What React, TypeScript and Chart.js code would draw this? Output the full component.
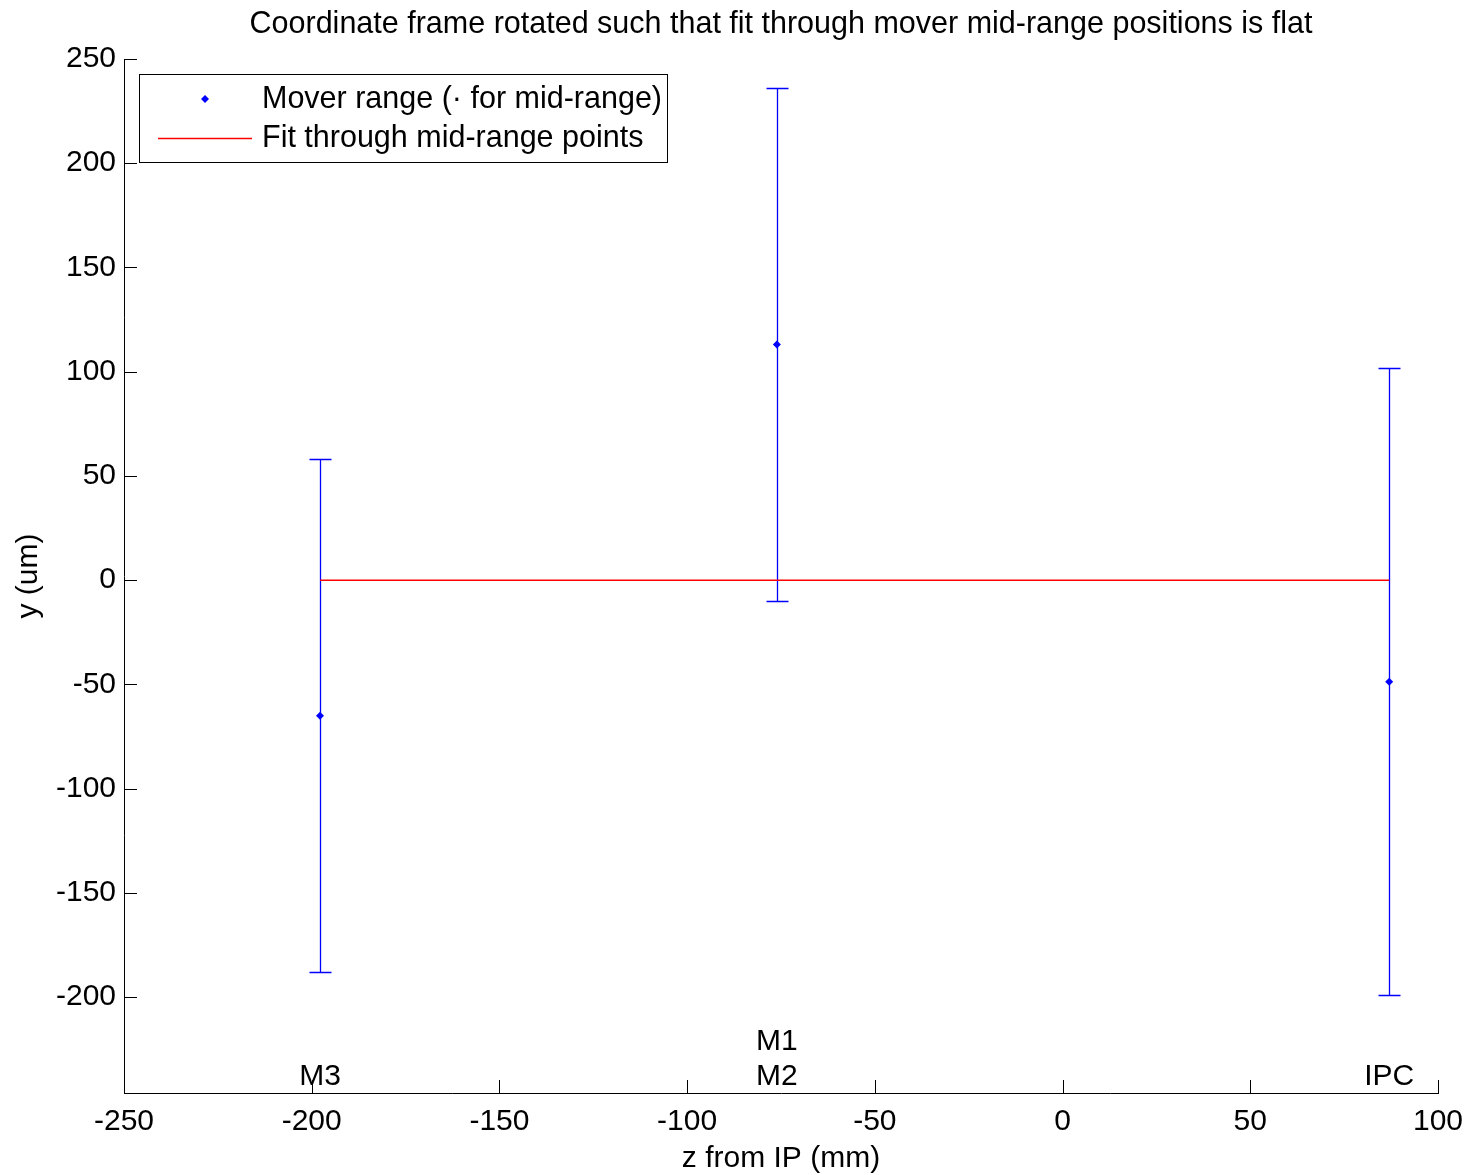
import React, { useEffect, useRef } from 'react';
import { Chart, registerables } from 'chart.js';

Chart.register(...registerables);

const chartTitle = 'Coordinate frame rotated such that fit through mover mid-range positions is flat';
const xAxisTitle = 'z from IP (mm)';
const yAxisTitle = 'y (um)';
const legendLabels = ['Mover range (\u00b7 for mid-range)', 'Fit through mid-range points'];

const moverLabels = [['M3'], ['M1', 'M2'], ['IPC']];
const moverZ = [-197.8, -76.1, 87.0];
const rangeLow = [-188.1, -10.1, -199.1];
const rangeHigh = [58.1, 236.1, 101.7];
const midRange = [-65.0, 113.0, -48.7];

const fitZ = [-197.8, 87.0];
const fitY = [0, 0];

const xTicks = [-250, -200, -150, -100, -50, 0, 50, 100];
const yTicks = [-200, -150, -100, -50, 0, 50, 100, 150, 200, 250];
const xMin = -250;
const xMax = 100;
const yMin = -246;
const yMax = 250;

const FONT = '"Liberation Sans", Arial, Helvetica, sans-serif';
const BLUE = '#0000ff';
const RED = '#ff0000';

const matlabPlugin = {
  id: 'matlabDecor',
  beforeDatasetsDraw(chart: any) {
    const { ctx, scales } = chart;
    const x = scales.x;
    const y = scales.y;
    ctx.save();
    ctx.strokeStyle = BLUE;
    ctx.lineWidth = 1.3;
    for (let i = 0; i < moverZ.length; i++) {
      const px = Math.round(x.getPixelForValue(moverZ[i])) + 0.5;
      const top = Math.round(y.getPixelForValue(rangeHigh[i])) + 0.5;
      const bot = Math.round(y.getPixelForValue(rangeLow[i])) + 0.5;
      ctx.beginPath();
      ctx.moveTo(px, top);
      ctx.lineTo(px, bot);
      ctx.moveTo(px - 11, top);
      ctx.lineTo(px + 11, top);
      ctx.moveTo(px - 11, bot);
      ctx.lineTo(px + 11, bot);
      ctx.stroke();
    }
    ctx.restore();
  },
  afterDraw(chart: any) {
    const { ctx, scales, chartArea } = chart;
    const x = scales.x;
    const y = scales.y;
    ctx.save();
    // inward ticks
    ctx.strokeStyle = '#000';
    ctx.lineWidth = 1;
    ctx.beginPath();
    const tl = 13;
    for (const v of xTicks) {
      const px = Math.round(x.getPixelForValue(v)) + 0.5;
      ctx.moveTo(px, chartArea.bottom);
      ctx.lineTo(px, chartArea.bottom - tl);
    }
    for (const v of yTicks) {
      const py = Math.round(y.getPixelForValue(v)) + 0.5;
      ctx.moveTo(chartArea.left, py);
      ctx.lineTo(chartArea.left + tl, py);
    }
    ctx.stroke();

    // title
    ctx.fillStyle = '#000';
    ctx.font = `30.5px ${FONT}`;
    ctx.textAlign = 'center';
    ctx.textBaseline = 'middle';
    ctx.fillText(chartTitle, (chartArea.left + chartArea.right) / 2, 25);

    // mover labels
    ctx.font = `30px ${FONT}`;
    ctx.textAlign = 'center';
    ctx.textBaseline = 'alphabetic';
    for (let i = 0; i < moverZ.length; i++) {
      const px = x.getPixelForValue(moverZ[i]);
      const lines = moverLabels[i];
      for (let j = 0; j < lines.length; j++) {
        const base = y.getPixelForValue(yMin) - 8 - (lines.length - 1 - j) * 35;
        ctx.fillText(lines[j], px, base);
      }
    }

    // legend
    const lx = 139.5, ly = 74.5, lw = 528, lh = 88;
    ctx.fillStyle = '#fff';
    ctx.fillRect(lx, ly, lw, lh);
    ctx.strokeStyle = '#000';
    ctx.lineWidth = 1;
    ctx.strokeRect(lx, ly, lw, lh);
    // entry 1 marker
    ctx.fillStyle = BLUE;
    ctx.beginPath();
    ctx.moveTo(205, 95);
    ctx.lineTo(209, 99);
    ctx.lineTo(205, 103);
    ctx.lineTo(201, 99);
    ctx.closePath();
    ctx.fill();
    // entry 2 line
    ctx.strokeStyle = RED;
    ctx.lineWidth = 1.5;
    ctx.beginPath();
    ctx.moveTo(158, 138.5);
    ctx.lineTo(252, 138.5);
    ctx.stroke();
    ctx.fillStyle = '#000';
    ctx.font = `30.5px ${FONT}`;
    ctx.textAlign = 'left';
    ctx.textBaseline = 'middle';
    ctx.fillText(legendLabels[0], 262, 100);
    ctx.fillText(legendLabels[1], 262, 139);
    ctx.restore();
  },
};

export default function App() {
  const canvasRef = useRef<HTMLCanvasElement | null>(null);

  useEffect(() => {
    document.body.style.margin = '0';
    const canvas = canvasRef.current;
    if (!canvas) return;
    const chart = new Chart(canvas, {
      type: 'scatter',
      data: {
        datasets: [
          {
            label: legendLabels[0],
            data: moverZ.map((z, i) => ({ x: z, y: midRange[i] })),
            pointStyle: 'rectRot',
            pointRadius: 4,
            pointBackgroundColor: BLUE,
            pointBorderColor: BLUE,
            pointBorderWidth: 0,
            showLine: false,
          },
          {
            label: legendLabels[1],
            data: fitZ.map((z, i) => ({ x: z, y: fitY[i] })),
            showLine: true,
            borderColor: RED,
            borderWidth: 1.5,
            pointRadius: 0,
            fill: false,
          },
        ],
      },
      options: {
        animation: false,
        responsive: true,
        maintainAspectRatio: false,
        layout: { padding: { top: 59, right: 34, left: 0, bottom: 0 } },
        plugins: {
          legend: { display: false },
          title: { display: false },
          tooltip: { enabled: false },
        },
        scales: {
          x: {
            type: 'linear',
            position: 'bottom',
            min: xMin,
            max: xMax,
            afterBuildTicks: (s: any) => {
              s.ticks = xTicks.map((v) => ({ value: v }));
            },
            afterFit: (s: any) => {
              s.height = 82;
              s.paddingLeft = 0;
              s.paddingRight = 0;
            },
            grid: { display: false, drawTicks: false },
            border: { display: true, color: '#000', width: 1 },
            ticks: {
              color: '#000',
              font: { family: FONT, size: 30 },
              padding: 11,
              maxRotation: 0,
              autoSkip: false,
            },
            title: {
              display: true,
              text: xAxisTitle,
              color: '#000',
              font: { family: FONT, size: 30, lineHeight: 1.1 },
              padding: { top: 0, bottom: 0 },
            },
          },
          y: {
            type: 'linear',
            min: yMin,
            max: yMax,
            afterBuildTicks: (s: any) => {
              s.ticks = yTicks.map((v) => ({ value: v }));
            },
            afterFit: (s: any) => {
              s.width = 124;
              s.paddingTop = 0;
              s.paddingBottom = 0;
            },
            grid: { display: false, drawTicks: false },
            border: { display: true, color: '#000', width: 1 },
            ticks: {
              color: '#000',
              font: { family: FONT, size: 30 },
              padding: 8,
              autoSkip: false,
            },
            title: {
              display: true,
              text: yAxisTitle,
              color: '#000',
              font: { family: FONT, size: 30 },
              padding: { top: 11, bottom: 0 },
            },
          },
        },
      },
      plugins: [matlabPlugin],
    });
    return () => chart.destroy();
  }, []);

  return (
    <div style={{ position: 'absolute', left: 0, top: 0, width: 1472, height: 1175 }}>
      <canvas ref={canvasRef} />
    </div>
  );
}
